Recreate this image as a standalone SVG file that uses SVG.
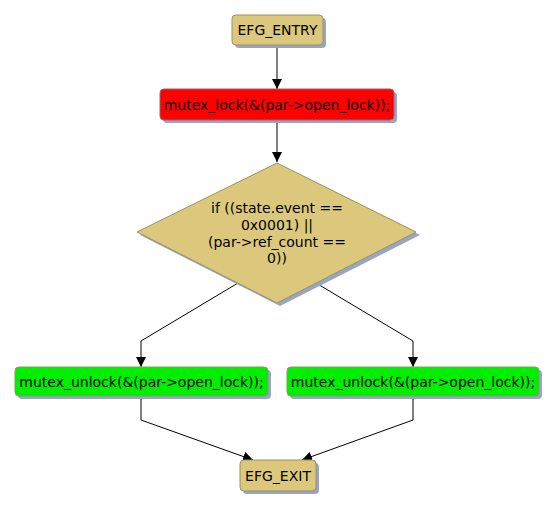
<svg xmlns="http://www.w3.org/2000/svg" width="557" height="509" viewBox="0 0 557 509">
<defs>
<marker id="arr" viewBox="0 0 10 10" refX="10" refY="5" markerWidth="10" markerHeight="10" markerUnits="userSpaceOnUse" orient="auto">
<path d="M0,0 L10,5 L0,10 Z" fill="#000"/>
</marker>
</defs>
<style>
.sh{fill:#97a6c4}
.tan{fill:#dcc87d;stroke:#a09060;stroke-width:1}
.red{fill:#ff0000;stroke:#a06060;stroke-width:1}
.grn{fill:#00ee00;stroke:#80a060;stroke-width:1}
text{font-family:"DejaVu Sans",Verdana,sans-serif;font-size:14px;fill:#000;text-anchor:middle}
.c{fill:none;stroke:#000;stroke-width:1}
</style>
<rect width="557" height="509" fill="#fff"/>
<g id="connectors">
<path class="c" d="M277,45 L277,89" marker-end="url(#arr)"/>
<path class="c" d="M277,120 L277,162" marker-end="url(#arr)"/>
<path class="c" d="M238,283 L141,341 L141,367" marker-end="url(#arr)"/>
<path class="c" d="M316,283 L413,341 L413,367" marker-end="url(#arr)"/>
<path class="c" d="M141,396 L141,420 L253,460" marker-end="url(#arr)"/>
<path class="c" d="M413,396 L413,420 L302,460" marker-end="url(#arr)"/>
</g>
<g id="entry">
<rect class="sh" x="235" y="18" width="91" height="30" rx="4"/>
<rect class="tan" x="232" y="15" width="91" height="30" rx="4"/>
<text x="277.5" y="35">EFG_ENTRY</text>
</g>
<g id="lock">
<rect class="sh" x="163" y="92" width="234" height="31" rx="4"/>
<rect class="red" x="160" y="89" width="234" height="31" rx="4"/>
<text x="277" y="110">mutex_lock(&amp;(par-&gt;open_lock));</text>
</g>
<g id="decision">
<polygon class="sh" points="280,166 420,235 280,306 140,235"/>
<polygon class="tan" points="277,163 416,232 277,303 137,232"/>
<text x="277" y="213">if ((state.event ==</text>
<text x="277" y="230">0x0001) ||</text>
<text x="277" y="247">(par-&gt;ref_count ==</text>
<text x="277" y="263">0))</text>
</g>
<g id="unlock_left">
<rect class="sh" x="18" y="370" width="253" height="29" rx="4"/>
<rect class="grn" x="15" y="367" width="253" height="29" rx="4"/>
<text x="141.5" y="387">mutex_unlock(&amp;(par-&gt;open_lock));</text>
</g>
<g id="unlock_right">
<rect class="sh" x="290" y="370" width="252" height="29" rx="4"/>
<rect class="grn" x="287" y="367" width="252" height="29" rx="4"/>
<text x="413" y="387">mutex_unlock(&amp;(par-&gt;open_lock));</text>
</g>
<g id="exit">
<rect class="sh" x="243" y="463" width="76" height="31" rx="4"/>
<rect class="tan" x="240" y="460" width="76" height="31" rx="4"/>
<text x="278" y="481">EFG_EXIT</text>
</g>
</svg>
